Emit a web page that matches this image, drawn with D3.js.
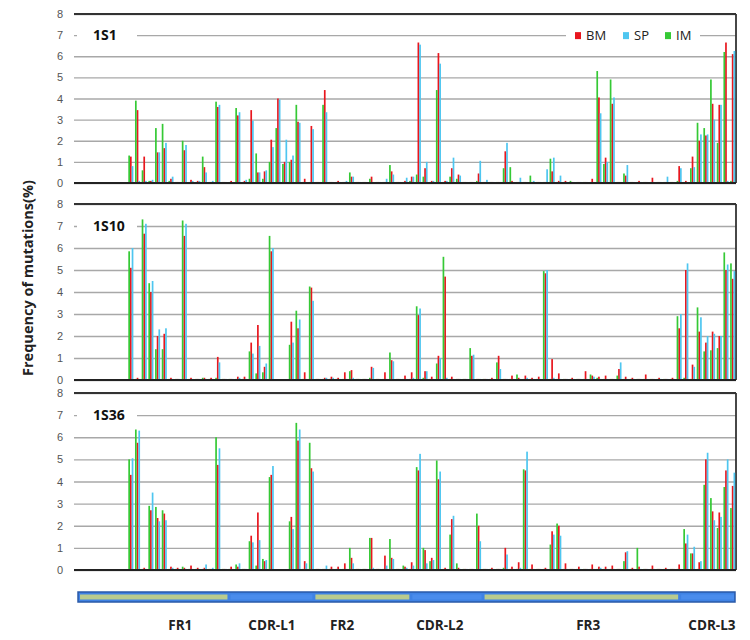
<!DOCTYPE html>
<html>
<head>
<meta charset="utf-8">
<script src="https://cdn.jsdelivr.net/npm/d3@7"></script>
<style>
  body { margin: 0; background: #fff; }
  svg { font-family: "Open Sans", "Liberation Sans", sans-serif; }
</style>
</head>
<body>
<div id="grafica"></div>
<script>
// residue positions along the light chain (categories)
var positions = d3.range(1, 100)
var series = ["BM", "SP", "IM"]
var panels = ["1S1", "1S10", "1S36"]
var yTicks = [0, 1, 2, 3, 4, 5, 6, 7, 8]

// 1S1
var bm_1S1 = [0,0,0,0,0,0,0,0,1.25,3.45,1.25,0.1,1.45,1.65,0.2,0.05,1.55,0.15,0.1,0.75,0.05,3.6,0.05,0.1,3.2,0.1,
  3.45,0.5,0.55,2.05,4.0,1.0,1.1,2.9,0.2,2.7,0.05,4.4,0.05,0.1,0.05,0.3,0.05,0.05,0.3,0.05,0.05,0.55,0.05,0.1,0.3,
  6.65,0.7,0.1,6.15,0.1,0.7,0.4,0.05,0.05,0.45,0.05,0.05,0.05,1.5,0.1,0.05,0.05,0.05,0.05,0.05,0.55,0.1,0.1,0.05,
  0.05,0.05,0.2,4.05,1.2,3.75,0.05,0.35,0.05,0.1,0.05,0.25,0.05,0.05,0.05,0.8,0.1,1.25,2.0,2.25,3.75,3.7,6.65,6.1]
var sp_1S1 = [0,0,0,0,0,0,0,0,0.8,0.1,0.1,0.15,1.45,1.9,0.3,0.05,1.8,0.1,0.1,0.5,0.1,3.7,0.05,0.05,3.35,0.15,
  2.95,0.5,0.6,1.7,3.95,2.05,1.3,2.85,0.05,2.55,0.05,3.35,0.05,0.05,0.1,0.3,0.05,0.05,0.05,0.05,0.2,0.4,0.05,0.25,0.3,
  6.55,1.0,0.1,5.65,0.1,1.2,0.35,0.05,0.05,1.05,0.15,0.05,0.05,1.9,0.05,0.25,0.05,0.1,0.05,0.65,1.2,0.35,0.05,0.05,
  0.05,0.05,0.05,3.3,1.0,4.05,0.05,0.85,0.05,0.05,0.05,0.05,0.05,0.3,0.05,0.7,0.05,0.75,2.3,2.3,3.0,3.7,0.1,6.25]
var im_1S1 = [0,0,0,0,0,0,0,0,1.3,3.9,0.6,0.1,2.6,2.8,0.1,0.05,2.0,0.05,0.05,1.25,0.05,3.85,0.05,0.05,3.55,0.05,
  0.2,1.4,0.2,1.0,2.6,0.9,1.0,3.7,0.05,0.05,0.05,3.7,0.05,0.05,0.05,0.5,0.05,0.05,0.2,0.05,0.05,0.85,0.05,0.05,0.1,
  0.4,0.3,0.05,4.4,0.05,0.3,0.2,0.05,0.05,0.1,0.05,0.05,0.05,0.7,0.75,0.05,0.05,0.35,0.05,0.05,1.15,0.05,0.05,0.1,
  0.05,0.05,0.05,5.3,0.9,4.9,0.05,0.45,0.05,0.05,0.05,0.05,0.05,0.05,0.05,0.1,0.05,0.7,2.85,2.6,4.9,1.9,6.2,0.1]

// 1S10
var bm_1S10 = [0,0,0,0,0,0,0,0,5.1,0.1,6.65,4.0,2.0,2.1,0.1,0.05,6.55,0.1,0.05,0.1,0.1,1.05,0.05,0.05,0.15,0.15,
  1.7,2.5,0.6,5.85,0,0,2.65,2.35,0.35,4.2,0.05,0.1,0.15,0.1,0.35,0.45,0.05,0.05,0.6,0.05,0.35,0.9,0.05,0.2,0.35,
  2.95,0.4,0.15,1.1,4.7,0.15,0.05,0.05,1.1,0.05,0.05,0.1,1.1,0.05,0.2,0.1,0.2,0.1,0.15,4.85,0.95,0.3,0.05,0.1,
  0.05,0.4,0.2,0.15,0.2,0.05,0.5,0.15,0.1,0.05,0.25,0.05,0.1,0.05,0.1,2.35,5.0,0.7,2.2,1.7,2.2,2.0,5.0,4.6]
var sp_1S10 = [0,0,0,0,0,0,0,0,6.0,0.05,7.1,4.5,2.3,2.35,0.05,0.05,7.1,0.05,0.05,0.05,0.05,0.8,0.05,0.05,0.1,0.05,
  1.2,1.55,0.75,6.0,0,0,1.7,2.75,0.05,3.6,0.05,0.1,0.1,0.05,0.05,0.1,0.05,0.05,0.55,0.05,0.05,0.85,0.05,0.05,0.1,
  3.25,0.4,0.05,1.0,0.1,0.05,0.05,0.05,1.15,0.05,0.05,0.05,0.5,0.05,0.05,0.05,0.1,0.05,0.05,5.0,0.1,0.05,0.05,0.05,
  0.05,0.05,0.15,0.05,0.05,0.05,0.8,0.05,0.05,0.05,0.05,0.05,0.05,0.05,0.05,3.0,5.3,0.6,2.85,2.0,2.1,2.0,5.25,4.95]
var im_1S10 = [0,0,0,0,0,0,0,0,5.85,0.05,7.3,4.4,1.4,1.4,0.05,0.05,7.25,0.05,0.05,0.1,0.05,0.1,0.05,0.05,0.05,0.05,
  1.3,0.3,0.35,6.55,0,0,1.6,3.15,0.05,4.25,0.05,0.05,0.05,0.05,0.05,0.4,0.05,0.05,0.1,0.05,0.05,1.25,0.05,0.05,0.05,
  3.35,0.1,0.05,0.75,5.6,0.05,0.05,0.05,1.45,0.05,0.05,0.05,0.8,0.05,0.05,0.25,0.05,0.05,0.05,4.95,0.05,0.05,0.05,0.05,
  0.05,0.05,0.25,0.1,0.05,0.05,0.2,0.05,0.05,0.05,0.05,0.05,0.05,0.05,0.05,2.9,0.1,0.05,3.3,1.3,1.35,1.45,5.8,5.3]

// 1S36
var bm_1S36 = [0,0,0,0,0,0,0,0,4.3,5.75,0.1,2.7,2.35,2.55,0.15,0.1,0.1,0.2,0.1,0.1,0.05,4.75,0.05,0.15,0.15,0.05,
  1.55,2.6,0.4,4.3,0,0,2.4,5.85,0.4,4.6,0.05,0.05,0.15,0.15,0.3,0.55,0.05,0.05,1.45,0.05,0.65,0.55,0.05,0.15,0.35,
  4.5,0.9,0.55,4.1,0.1,2.3,0.1,0.05,0.05,2.0,0.05,0.1,0.05,1.0,0.15,0.35,4.5,0.25,0.05,0.1,1.75,2.0,0.3,0.05,
  0.15,0.05,0.25,0.15,0.15,0.2,0.05,0.8,0.1,0.15,0.05,0.2,0.05,0.1,0.05,0.25,1.2,0.75,0.35,5.0,2.65,2.6,4.5,3.8]
var sp_1S36 = [0,0,0,0,0,0,0,0,5.05,6.3,0.05,3.5,2.2,2.25,0.1,0.05,0.05,0.05,0.05,0.25,0.1,5.5,0.05,0.05,0.3,0.05,
  1.25,1.35,0.45,4.7,0,0,1.85,6.35,0.3,4.45,0.05,0.2,0.05,0.05,0.05,0.3,0.05,0.05,0.1,0.05,0.2,0.5,0.05,0.1,0.2,
  5.25,0.3,0.45,4.45,0.05,2.45,0.05,0.05,0.05,1.3,0.05,0.05,0.05,0.7,0.05,0.1,5.35,0.05,0.05,0.05,1.6,1.55,0.05,0.05,
  0.05,0.05,0.05,0.1,0.05,0.05,0.05,0.85,0.05,0.05,0.05,0.05,0.05,0.05,0.05,0.05,1.6,1.05,0.4,5.3,2.25,2.4,5.0,4.4]
var im_1S36 = [0,0,0,0,0,0,0,0,5.0,6.35,0.05,2.9,2.85,2.7,0.05,0.05,0.15,0.05,0.05,0.05,0.05,6.0,0.05,0.05,0.25,0.05,
  1.3,0.2,0.5,4.2,0,0,2.2,6.65,0.05,5.75,0.05,0.05,0.05,0.05,0.05,1.0,0.05,0.05,1.45,0.05,0.05,1.4,0.05,0.2,0.05,
  4.65,1.0,0.4,4.95,0.05,1.6,0.3,0.05,0.05,2.55,0.05,0.05,0.05,0.1,0.05,0.05,4.55,0.05,0.05,0.05,1.15,2.1,0.05,0.05,
  0.05,0.05,0.05,0.05,0.05,0.05,0.05,0.4,0.05,1.0,0.05,0.05,0.05,0.05,0.05,0.05,1.85,0.75,0.05,3.85,3.25,1.9,3.75,2.8]

// regions of the chain, in residue units
var regionNames = ["FR1", "CDR-L1", "FR2", "CDR-L2", "FR3", "CDR-L3"]
var regionFrom = [0.6, 23.1, 35.8, 50.3, 61.1, 90.5]
var regionTo = [23.1, 35.8, 50.3, 61.1, 90.5, 98.85]
var regionLabelAt = [15.9, 29.6, 40.1, 54.7, 76.9, 95.4]

var datos = {
  "1S1": { BM: bm_1S1, SP: sp_1S1, IM: im_1S1 },
  "1S10": { BM: bm_1S10, SP: sp_1S10, IM: im_1S10 },
  "1S36": { BM: bm_1S36, SP: sp_1S36, IM: im_1S36 }
}

var width = 750
var height = 640
var left = 74, right = 736
var panelTop = [14, 204, 393]
var panelBottom = [183, 380, 570]

var colores = { BM: "#e8161e", SP: "#4ec6f0", IM: "#35c935" }

var svg = d3.select("#grafica")
  .append("svg")
  .attr("width", width)
  .attr("height", height)

var x = d3.scaleBand()
  .domain(positions)
  .range([left, right])
  .paddingInner(0.24)
  .paddingOuter(0.12)

// bar order inside a group as seen in the picture
var xSub = d3.scaleBand()
  .domain(["IM", "BM", "SP"])
  .range([0, x.bandwidth()])

var xr = d3.scaleLinear().domain([0, positions.length]).range([left, right])

panels.forEach(function (p, k) {
  var y = d3.scaleLinear()
    .domain([0, 8])
    .range([panelBottom[k], panelTop[k]])

  var g = svg.append("g")

  // grid + tick labels
  var yAxis = g.append("g")
    .attr("transform", "translate(" + left + ",0)")
    .call(d3.axisLeft(y).tickValues(yTicks).tickSize(-(right - left)).tickPadding(11))
  yAxis.select(".domain").remove()
  yAxis.selectAll("line")
    .attr("stroke", "#a8a8a8")
    .attr("stroke-width", 1.4)
  yAxis.selectAll("text")
    .attr("fill", "#555")
    .style("font-size", "11px")

  // frame
  g.append("line").attr("x1", left).attr("x2", right)
    .attr("y1", y(8)).attr("y2", y(8))
    .attr("stroke", "#333").attr("stroke-width", 1.8)
  g.append("line").attr("x1", right).attr("x2", right)
    .attr("y1", y(8)).attr("y2", y(0))
    .attr("stroke", "#333").attr("stroke-width", 1.8)

  // bars
  series.forEach(function (s) {
    g.append("g")
      .attr("fill", colores[s])
      .selectAll("rect")
      .data(datos[p][s])
      .join("rect")
      .attr("x", (d, i) => x(positions[i]) + xSub(s))
      .attr("y", d => y(d))
      .attr("width", xSub.bandwidth())
      .attr("height", d => y(0) - y(d))
  })

  // baseline
  g.append("line").attr("x1", left).attr("x2", right)
    .attr("y1", y(0)).attr("y2", y(0))
    .attr("stroke", "#222").attr("stroke-width", 1.8)

  // panel name
  g.append("rect")
    .attr("x", left + 3).attr("y", y(7) - 8)
    .attr("width", 60).attr("height", 16)
    .attr("fill", "white")
  g.append("text")
    .attr("x", left + 19).attr("y", y(7) + 5)
    .attr("font-weight", "bold")
    .attr("font-size", "14px")
    .attr("fill", "#111")
    .text(p)

  // legend only on first panel
  if (k === 0) {
    g.append("rect")
      .attr("x", 566).attr("y", y(7) - 8)
      .attr("width", 134).attr("height", 16)
      .attr("fill", "white")
    var lx = [575, 623, 665]
    series.forEach(function (s, i) {
      g.append("rect")
        .attr("x", lx[i]).attr("y", y(7) - 3)
        .attr("width", 6).attr("height", 7)
        .attr("fill", colores[s])
      g.append("text")
        .attr("x", lx[i] + 11).attr("y", y(7) + 5)
        .attr("font-size", "13px")
        .attr("fill", "#222")
        .text(s)
    })
  }
})

// y title
svg.append("text")
  .attr("transform", "translate(33,278) rotate(-90)")
  .attr("text-anchor", "middle")
  .attr("font-weight", "bold")
  .attr("font-size", "14.5px")
  .attr("fill", "#222")
  .text("Frequency of mutations(%)")

// region bar
var barTop = 592, barH = 10
svg.append("rect")
  .attr("x", xr(regionFrom[0])).attr("y", barTop)
  .attr("width", xr(regionTo[regionTo.length - 1]) - xr(regionFrom[0]))
  .attr("height", barH)
  .attr("fill", "#3f82e4")
  .attr("stroke", "#2a5aa8")
  .attr("stroke-width", 1.5)

svg.append("g")
  .selectAll("rect")
  .data(regionNames)
  .join("rect")
  .attr("x", (d, i) => xr(regionFrom[i]) + 2)
  .attr("y", barTop + 2.5)
  .attr("width", (d, i) => xr(regionTo[i]) - xr(regionFrom[i]) - 3)
  .attr("height", barH - 5)
  .attr("fill", d => d.indexOf("FR") === 0 ? "#b9cb8e" : "#4a8cec")

svg.append("g")
  .selectAll("text")
  .data(regionNames)
  .join("text")
  .attr("x", (d, i) => xr(regionLabelAt[i]))
  .attr("y", 630)
  .attr("text-anchor", "middle")
  .attr("font-weight", "bold")
  .attr("font-size", "13.5px")
  .attr("fill", "#222")
  .text(d => d)
</script>
</body>
</html>
